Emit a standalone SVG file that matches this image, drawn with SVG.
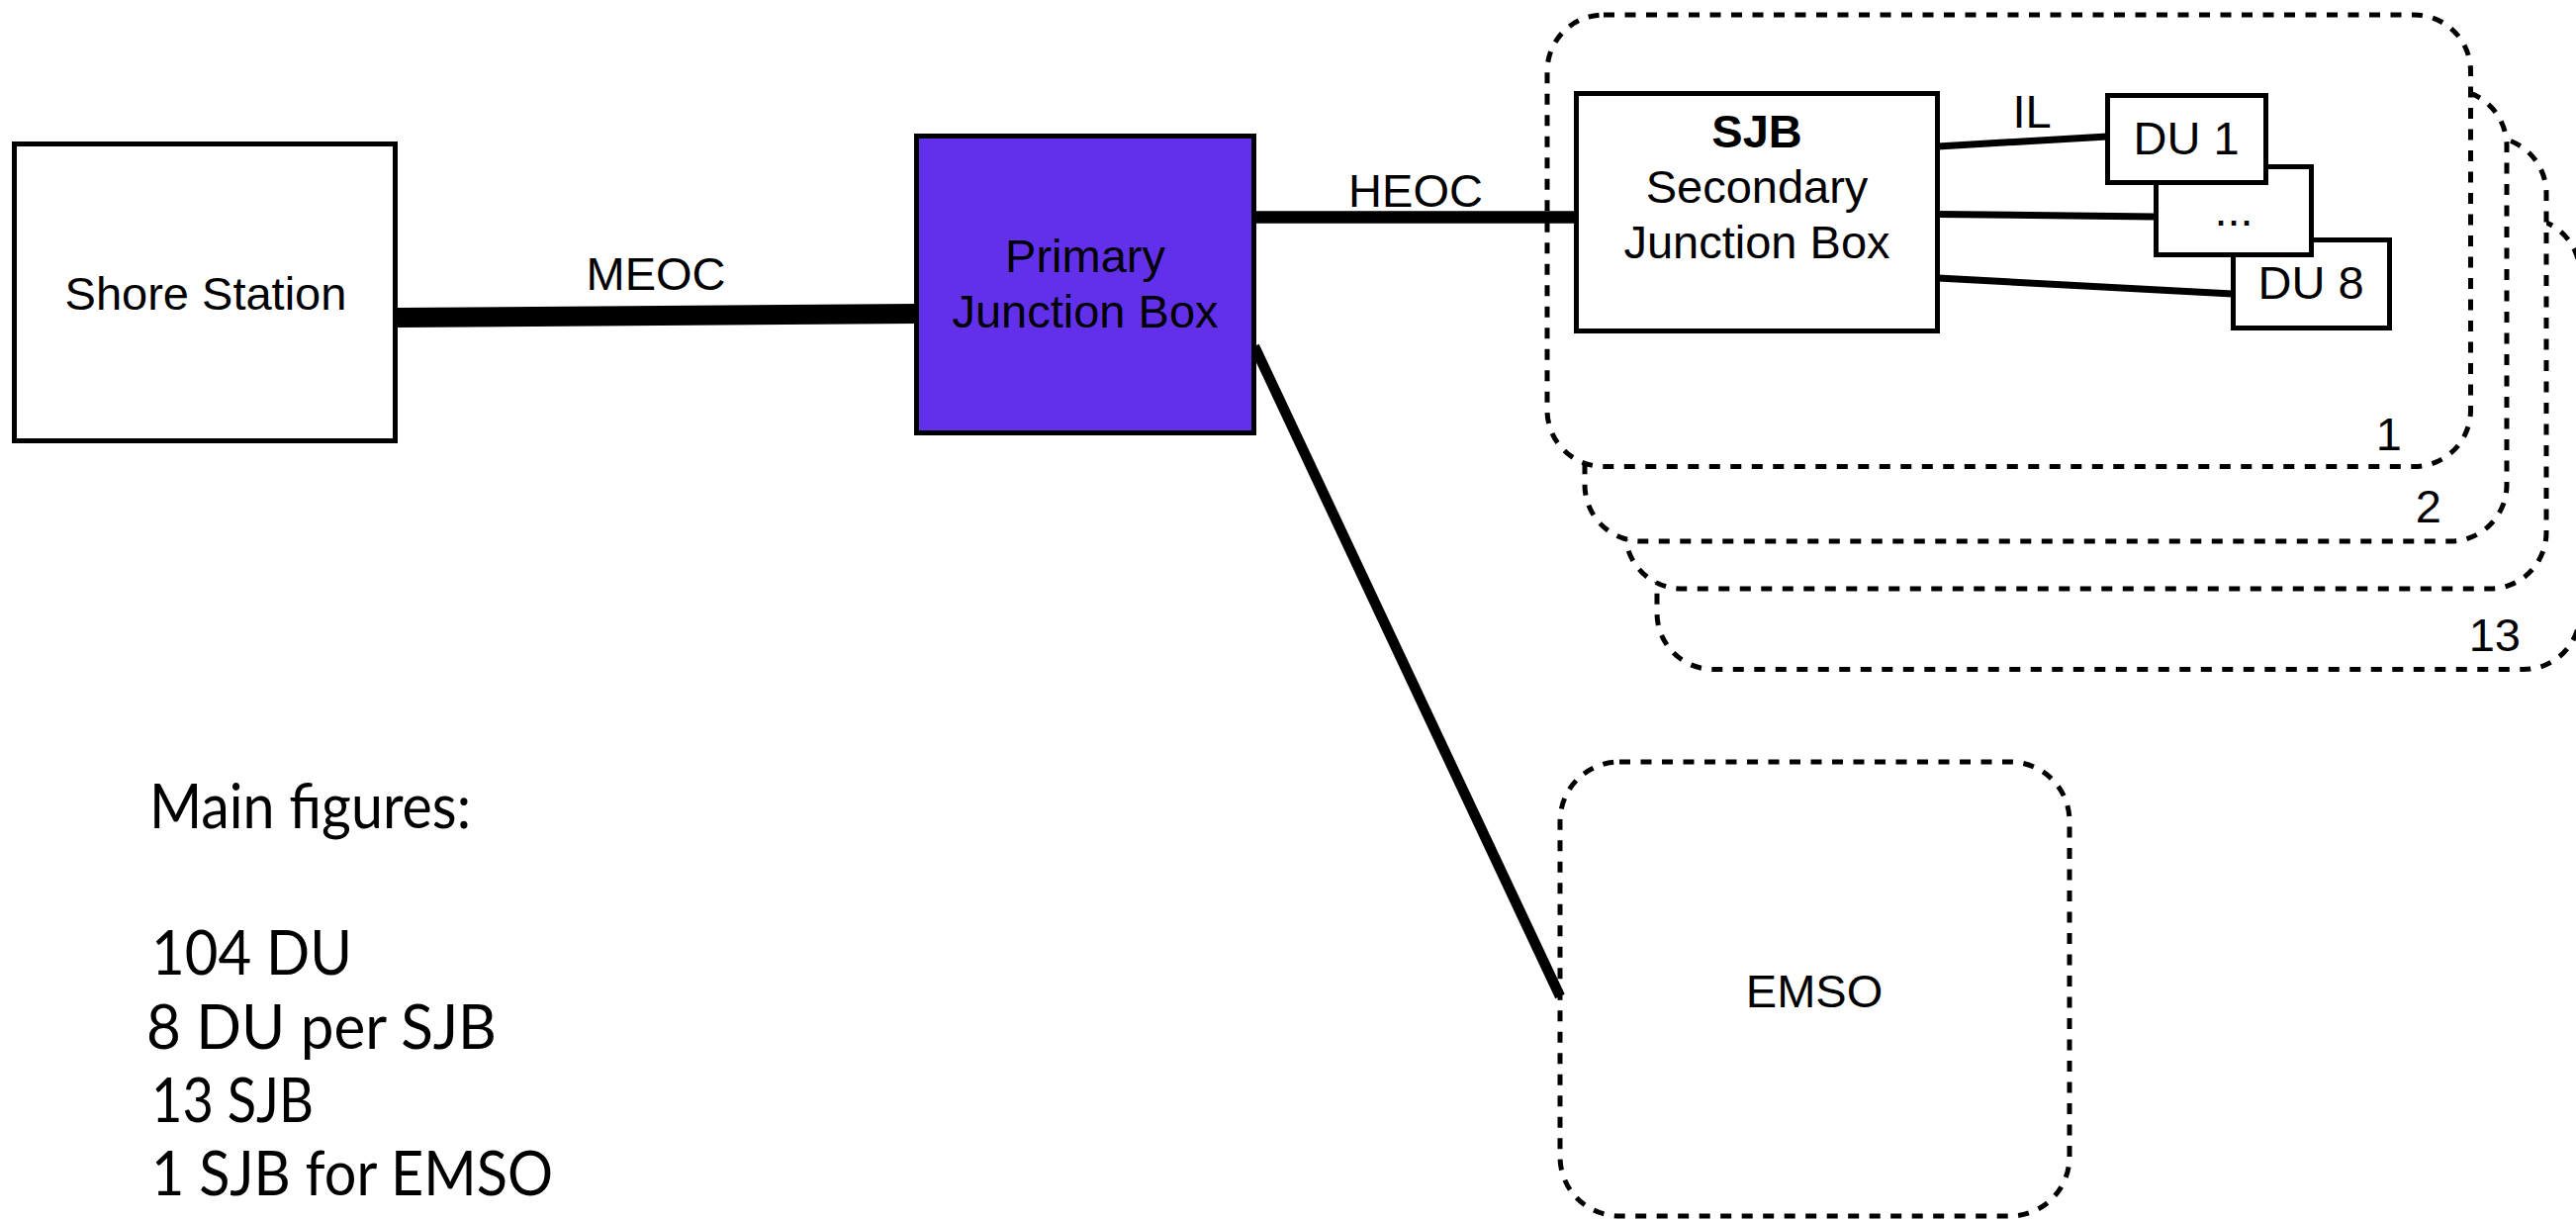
<svg xmlns="http://www.w3.org/2000/svg" width="2604" height="1234" viewBox="0 0 2604 1234">
<style>
.bg{fill:#ffffff}
.box{fill:#ffffff;stroke:#000000;stroke-width:5}
.pjb{fill:#6230EA;stroke:#000000;stroke-width:5}
.grp{fill:#ffffff;stroke:#000000;stroke-width:5;stroke-dasharray:11 10.5}
.lbl{font-family:"Liberation Sans",Arial,Helvetica,sans-serif;font-size:47px;fill:#000000;text-anchor:middle}
.num{font-family:"Liberation Sans",Arial,Helvetica,sans-serif;font-size:47px;fill:#000000;text-anchor:end}
.bold{font-weight:bold}
.note{font-family:Lato,"Open Sans","Noto Sans",sans-serif;font-size:62px;fill:#000000}
.cable{stroke:#000000;fill:none;stroke-linecap:butt}
</style>
<rect class="bg" x="0" y="0" width="2604" height="1234"/>

<g id="sjb-groups">
  <g id="group-13">
    <rect class="grp" x="1675" y="220" width="933" height="456.5" rx="57" ry="57"/>
    <text class="num" x="2548" y="658">13</text>
  </g>
  <g id="group-3">
    <rect class="grp" x="1643" y="138.5" width="931" height="456.5" rx="57" ry="57"/>
  </g>
  <g id="group-2">
    <rect class="grp" x="1602" y="90.5" width="932" height="456.5" rx="57" ry="57"/>
    <text class="num" x="2468" y="528">2</text>
  </g>
  <g id="group-1">
    <rect class="grp" x="1564" y="15" width="933.5" height="456.5" rx="57" ry="57"/>
    <text class="num" x="2428" y="455">1</text>
  </g>
</g>

<g id="emso">
  <rect class="grp" x="1577" y="770" width="515" height="459" rx="60" ry="60"/>
  <text class="lbl" x="1834" y="1018">EMSO</text>
</g>

<g id="connectors">
  <line class="cable" x1="402" y1="321" x2="926" y2="317" stroke-width="20"/>
  <text class="lbl" x="663" y="293">MEOC</text>
  <line class="cable" x1="1268" y1="219.5" x2="1593" y2="219.5" stroke-width="12.5"/>
  <text class="lbl" x="1431" y="209">HEOC</text>
  <line class="cable" x1="1268" y1="350" x2="1577" y2="1007" stroke-width="10.5"/>
  <line class="cable" x1="1959" y1="148" x2="2130" y2="138" stroke-width="7"/>
  <text class="lbl" x="2054" y="129">IL</text>
  <line class="cable" x1="1959" y1="216.5" x2="2179" y2="219" stroke-width="7"/>
  <line class="cable" x1="1959" y1="281" x2="2257" y2="297" stroke-width="7"/>
</g>

<g id="shore-station">
  <rect class="box" x="14.5" y="145.5" width="385" height="300"/>
  <text class="lbl" x="208" y="313">Shore Station</text>
</g>

<g id="primary-junction-box">
  <rect class="pjb" x="926.5" y="137.5" width="341" height="300"/>
  <text class="lbl" x="1097" y="275">Primary</text>
  <text class="lbl" x="1097" y="331">Junction Box</text>
</g>

<g id="sjb">
  <rect class="box" x="1593.5" y="94.5" width="365" height="240"/>
  <text class="lbl bold" x="1776" y="149">SJB</text>
  <text class="lbl" x="1776" y="205">Secondary</text>
  <text class="lbl" x="1776" y="261">Junction Box</text>
</g>

<g id="du-8">
  <rect class="box" x="2257.5" y="242.5" width="158" height="89"/>
  <text class="lbl" x="2336" y="302">DU 8</text>
</g>
<g id="du-dots">
  <rect class="box" x="2179.5" y="168.5" width="157" height="89"/>
  <text class="lbl" x="2258" y="228">...</text>
</g>
<g id="du-1">
  <rect class="box" x="2130.5" y="96.5" width="160" height="88"/>
  <text class="lbl" x="2210" y="156">DU 1</text>
</g>

<g id="main-figures">
  <text class="note" x="151" y="837" textLength="325" lengthAdjust="spacingAndGlyphs">Main figures:</text>
  <text class="note" x="153" y="985" textLength="203" lengthAdjust="spacingAndGlyphs">104 DU</text>
  <text class="note" x="148" y="1060" textLength="354" lengthAdjust="spacingAndGlyphs">8 DU per SJB</text>
  <text class="note" x="153" y="1134" textLength="164" lengthAdjust="spacingAndGlyphs">13 SJB</text>
  <text class="note" x="153" y="1208" textLength="406" lengthAdjust="spacingAndGlyphs">1 SJB for EMSO</text>
</g>
</svg>
